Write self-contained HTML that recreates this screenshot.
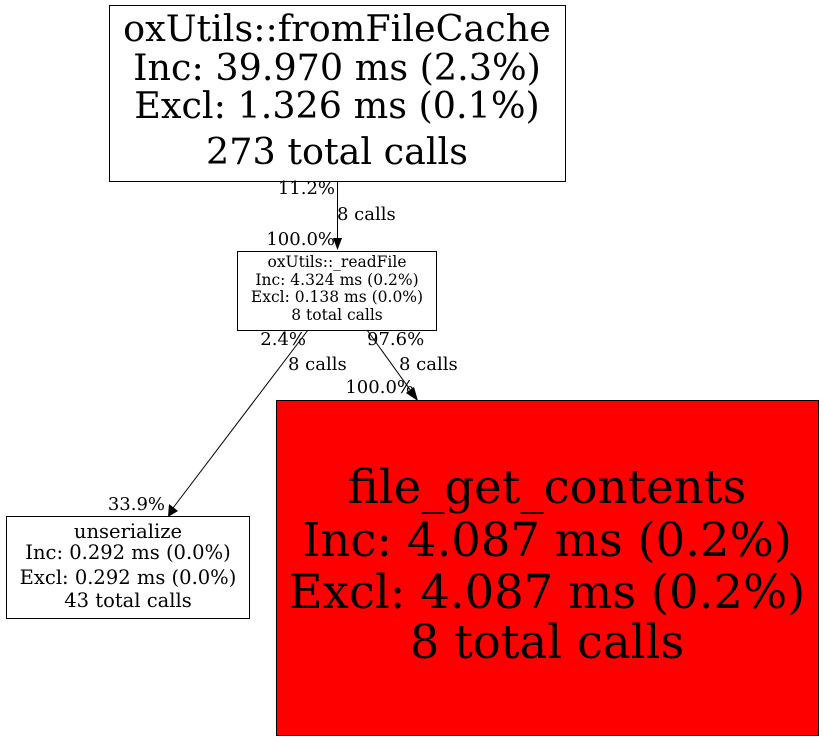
<!DOCTYPE html>
<html><head><style>body{margin:0;background:#fff}svg{display:block}text{font-family:"DejaVu Serif",serif;fill:#000}</style></head>
<body>
<svg width="823" height="741" viewBox="0 0 823 741" xmlns="http://www.w3.org/2000/svg">
<rect x="109.5" y="5.5" width="456" height="176" fill="#fff" stroke="#000"/>
<g text-anchor="middle" font-size="36.5">
<text x="337" y="41">oxUtils::fromFileCache</text>
<text x="337" y="80">Inc: 39.970 ms (2.3%)</text>
<text x="337" y="118">Excl: 1.326 ms (0.1%)</text>
<text x="337" y="164">273 total calls</text>
</g>
<line x1="337.5" y1="181" x2="337.5" y2="239" stroke="#000"/>
<polygon points="333,238 342,238 337.5,250" fill="#000"/>
<g font-size="18">
<text x="335" y="194" text-anchor="end">11.2%</text>
<text x="337" y="220">8 calls</text>
<text x="335" y="245" text-anchor="end">100.0%</text>
<text x="306" y="345" text-anchor="end">2.4%</text>
<text x="288" y="370">8 calls</text>
<text x="165" y="510" text-anchor="end">33.9%</text>
<text x="367" y="345">97.6%</text>
<text x="399" y="370">8 calls</text>
<text x="414" y="393" text-anchor="end">100.0%</text>
</g>
<rect x="237.5" y="251.5" width="199" height="79" fill="#fff" stroke="#000"/>
<g text-anchor="middle" font-size="15.5">
<text x="337" y="267">oxUtils::_readFile</text>
<text x="337" y="285">Inc: 4.324 ms (0.2%)</text>
<text x="337" y="302">Excl: 0.138 ms (0.0%)</text>
<text x="337" y="320">8 total calls</text>
</g>
<line x1="308" y1="330" x2="173" y2="508" stroke="#000"/>
<polygon points="168,517 169,504 178,511" fill="#000"/>
<line x1="367" y1="330" x2="411" y2="391" stroke="#000"/>
<polygon points="418,401 406,393 414,387" fill="#000"/>
<rect x="6.5" y="516.5" width="243" height="102" fill="#fff" stroke="#000"/>
<g text-anchor="middle" font-size="19.5">
<text x="128" y="538">unserialize</text>
<text x="128" y="559">Inc: 0.292 ms (0.0%)</text>
<text x="128" y="584">Excl: 0.292 ms (0.0%)</text>
<text x="128" y="607">43 total calls</text>
</g>
<rect x="276.5" y="400.5" width="542" height="335" fill="#f00" stroke="#000"/>
<g text-anchor="middle" font-size="46.5">
<text x="547" y="503">file_get_contents</text>
<text x="547" y="556">Inc: 4.087 ms (0.2%)</text>
<text x="547" y="608">Excl: 4.087 ms (0.2%)</text>
<text x="547" y="658">8 total calls</text>
</g>
</svg>
</body></html>
